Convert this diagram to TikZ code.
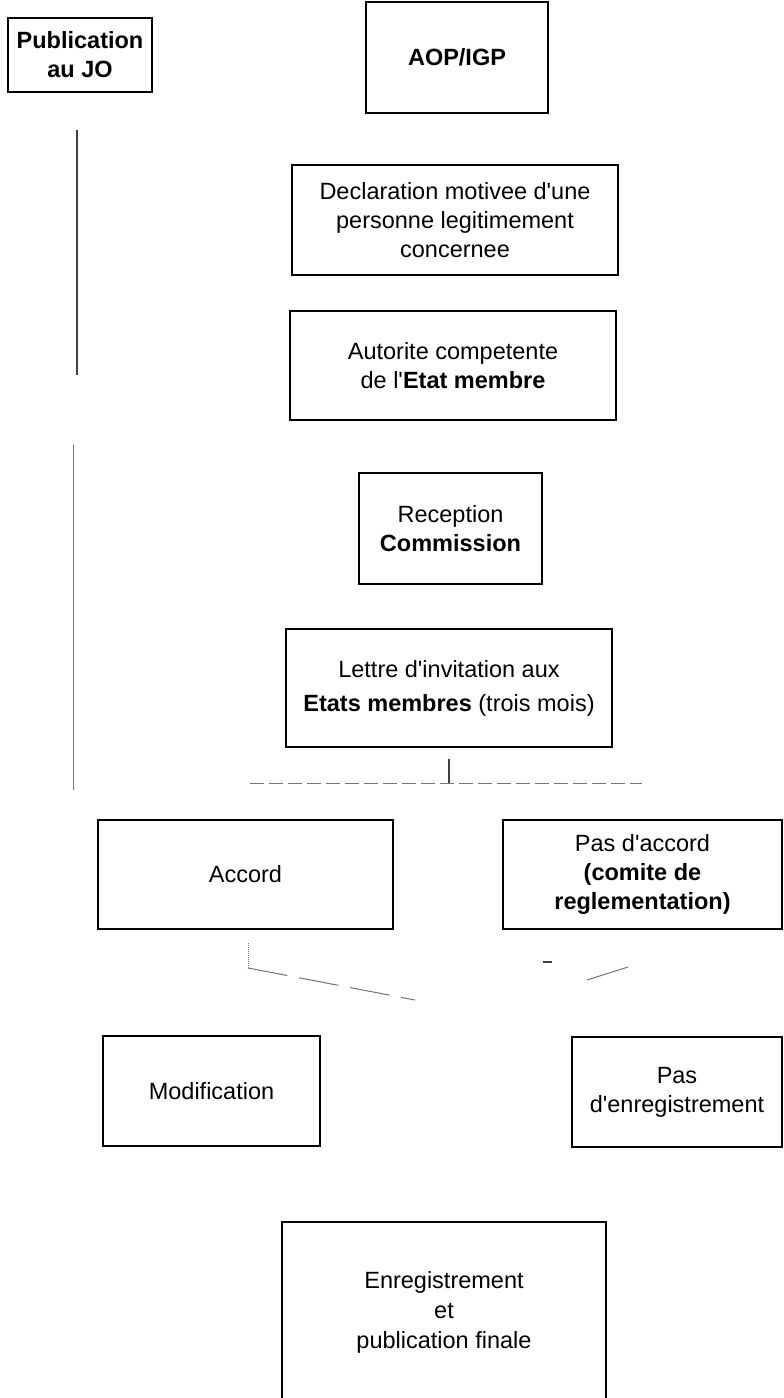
\documentclass[tikz,border=0pt]{standalone}
\usepackage{fontspec}
\setmainfont{Liberation Sans}[Ligatures=TeXOff]
\begin{document}
\begin{tikzpicture}[x=1pt,y=-1pt,
  box/.style={draw, line width=1.2pt, align=center, inner sep=0pt, anchor=center,
    font=\fontsize{23.5}{29}\selectfont},
  faint/.style={line width=1pt, black!55},
  link/.style={line width=1.1pt, black!75}]
\useasboundingbox (0,0) rectangle (784,1398);
\node[box, minimum width=144, minimum height=74] (pub) at (80,55) {\bfseries Publication\\\bfseries au JO};
\node[box, minimum width=182, minimum height=111] (aop) at (457,57.5) {\bfseries AOP/IGP};
\node[box, minimum width=326, minimum height=110] (decl) at (455,220) {Declaration motivee d'une\\personne legitimement\\concernee};
\node[box, minimum width=326, minimum height=109] (auto) at (453,365.5) {Autorite competente\\de l'\textbf{Etat membre}};
\node[box, minimum width=183, minimum height=111] (recep) at (450.5,528.5) {Reception\\\textbf{Commission}};
\node[box, minimum width=326, minimum height=118, font=\fontsize{23.5}{34}\selectfont] (lettre) at (449,688) {Lettre d'invitation aux\\\textbf{Etats membres} (trois mois)};
\node[box, minimum width=295, minimum height=109] (accord) at (245.5,874.5) {Accord};
\node[box, minimum width=279, minimum height=109] (pasacc) at (642.5,874.5) {Pas d'accord\\\textbf{(comite de}\\\textbf{reglementation)}};
\node[box, minimum width=217, minimum height=110] (modif) at (211.5,1091) {Modification};
\node[box, minimum width=210, minimum height=110] (pasenr) at (677,1092) {Pas\\d'enregistrement};
\node[box, minimum width=324, minimum height=180, font=\fontsize{23.5}{30}\selectfont] (enreg) at (444,1312) {Enregistrement\\et\\publication finale};
% left timeline
\coordinate (l1a) at (77,130); \coordinate (l1b) at (77,375);
\coordinate (l2a) at (73,445); \coordinate (l2b) at (73,790);
\draw[link] (l1a) -- (l1b);
\draw[faint] (l2a) -- (l2b);
% branch from lettre
\coordinate (hj) at (449,783);
\coordinate (hl) at (250,783); \coordinate (hr) at (642,783);
\draw[link] (lettre.south) ++(0,11) -- (hj);
\draw[faint, dash pattern=on 14pt off 5pt] (hl) -- (hr);
% from accord
\coordinate (a1) at (248,943); \coordinate (a2) at (248,968); \coordinate (a3) at (415,1000);
\draw[faint, densely dotted] (a1) -- (a2);
\draw[faint, dash pattern=on 40pt off 12pt] (a2) -- (a3);
% from pas d'accord
\coordinate (p1) at (543,962); \coordinate (p2) at (552,962);
\coordinate (p3) at (587,980); \coordinate (p4) at (628,967);
\draw[link] (p1) -- (p2);
\draw[faint] (p3) -- (p4);
\end{tikzpicture}
\end{document}
